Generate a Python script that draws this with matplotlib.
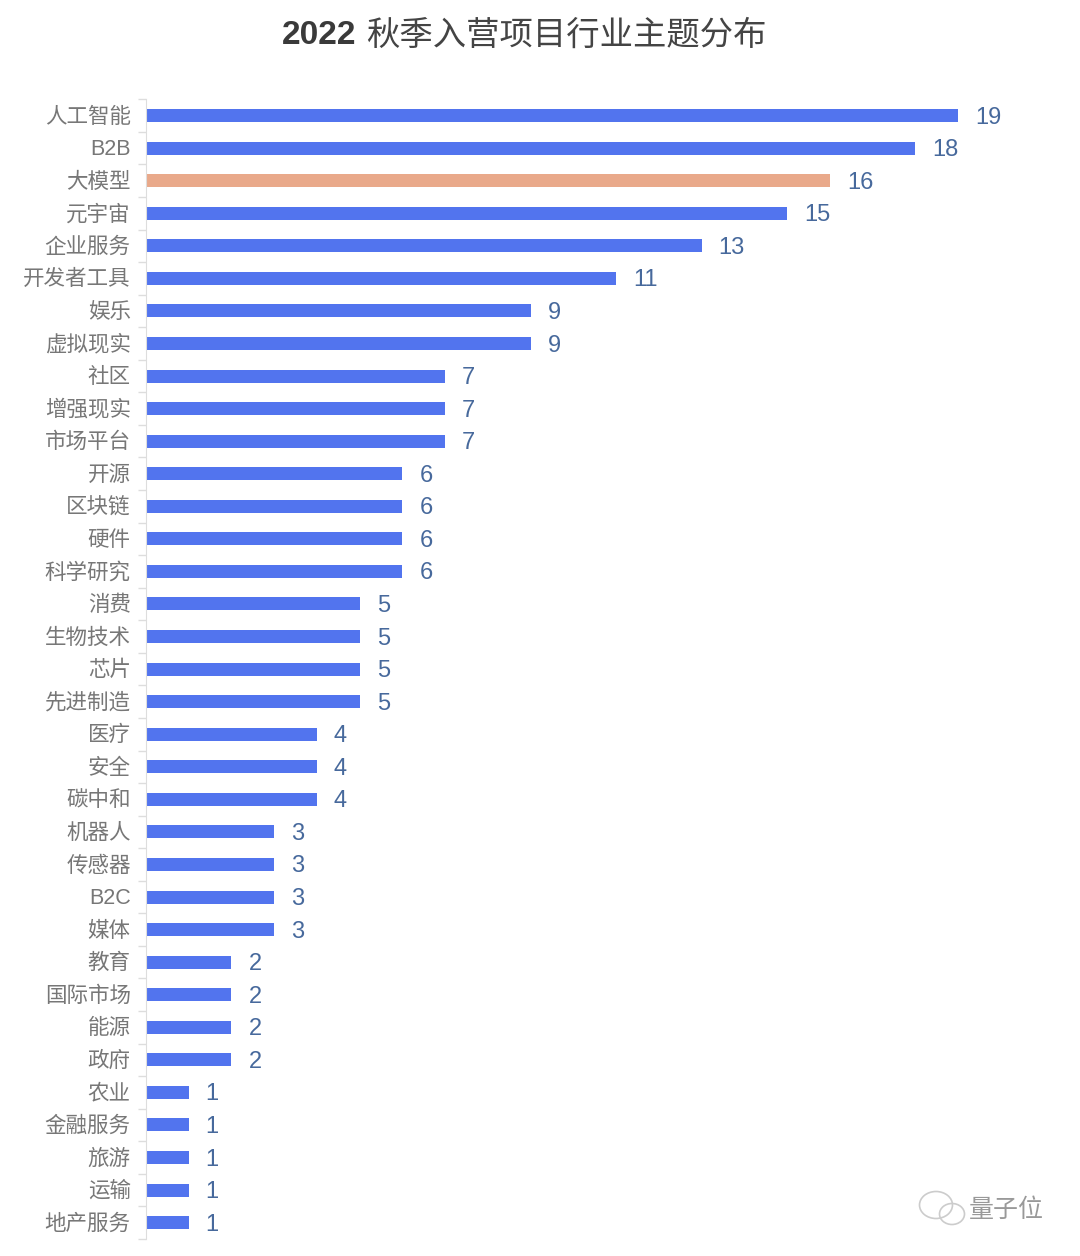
#!/usr/bin/env python3
import matplotlib
matplotlib.use('Agg')
import matplotlib.pyplot as plt
from matplotlib.patches import Ellipse
from matplotlib.transforms import ScaledTranslation
import numpy as np

categories = ['人工智能', 'B2B', '大模型', '元宇宙', '企业服务', '开发者工具', '娱乐',
              '虚拟现实', '社区', '增强现实', '市场平台', '开源', '区块链', '硬件',
              '科学研究', '消费', '生物技术', '芯片', '先进制造', '医疗', '安全',
              '碳中和', '机器人', '传感器', 'B2C', '媒体', '教育', '国际市场', '能源',
              '政府', '农业', '金融服务', '旅游', '运输', '地产服务']
values = [19, 18, 16, 15, 13, 11, 9, 9, 7, 7, 7, 6, 6, 6, 6, 5, 5, 5, 5, 4, 4, 4,
          3, 3, 3, 3, 2, 2, 2, 2, 1, 1, 1, 1, 1]
highlight = '大模型'

W, H = 1080, 1256
plt.rcParams['font.family'] = ['Liberation Sans', 'Noto Sans CJK SC']

fig = plt.figure(figsize=(W / 100, H / 100), dpi=100)
# axes box in pixels, top of image is y=0
left, right, top, bottom = 146, 1080, 99.3, 1238.9
ax = fig.add_axes([left / W, 1 - bottom / H, (right - left) / W, (bottom - top) / H])

colors = ['#e9a98a' if c == highlight else '#5274ee' for c in categories]
pos = np.arange(len(categories))
ax.barh(pos, values, height=0.4, color=colors)
ax.set_ylim(len(categories) - 0.5, -0.5)
ax.set_xlim(0, (right - left) / 42.74)

for p, v in zip(pos, values):
    ax.annotate(str(v), (v, p), xytext=(17, -2), textcoords='offset pixels',
                va='center', ha='left', fontsize=17, color='#47699c')

# labels sit on the rows, ticks between rows
ax.set_yticks(pos, categories, fontsize=15.5, color='#777777')
ax.tick_params(axis='y', which='major', length=0, pad=11)
# nudge labels up one pixel
for t in ax.get_yticklabels():
    t.set_transform(t.get_transform() + ScaledTranslation(0, 1 / 100, fig.dpi_scale_trans))
ax.set_yticks(np.arange(len(categories) + 1) - 0.5, minor=True)
ax.tick_params(axis='y', which='minor', length=6, width=1, color='#dddddd')
ax.set_xticks([])
for s in ['top', 'right', 'bottom']:
    ax.spines[s].set_visible(False)
ax.spines['left'].set_color('#dddddd')

# digits are bold, the chinese part is lighter
fig.text(282 / W, 1 - 36 / H, '2022', ha='left', va='center',
         fontsize=24, color='#3a3a3a', fontweight='bold')
fig.text(366 / W, 1 - 36 / H, '秋季入营项目行业主题分布', ha='left', va='center',
         fontsize=24, color='#444444', fontweight='medium')

# watermark
fig.text(1006 / W, 1 - 1210 / H, '量子位', ha='center', va='center', fontsize=18,
         color='#999999')
for x, y, w, h in [(936, 1205, 33, 27), (952, 1214, 25, 21)]:
    fig.add_artist(Ellipse((x / W, 1 - y / H), w / W, h / H, transform=fig.transFigure,
                           fill=False, edgecolor='#cccccc', linewidth=1.2))

fig.savefig('out.png', dpi=100)
